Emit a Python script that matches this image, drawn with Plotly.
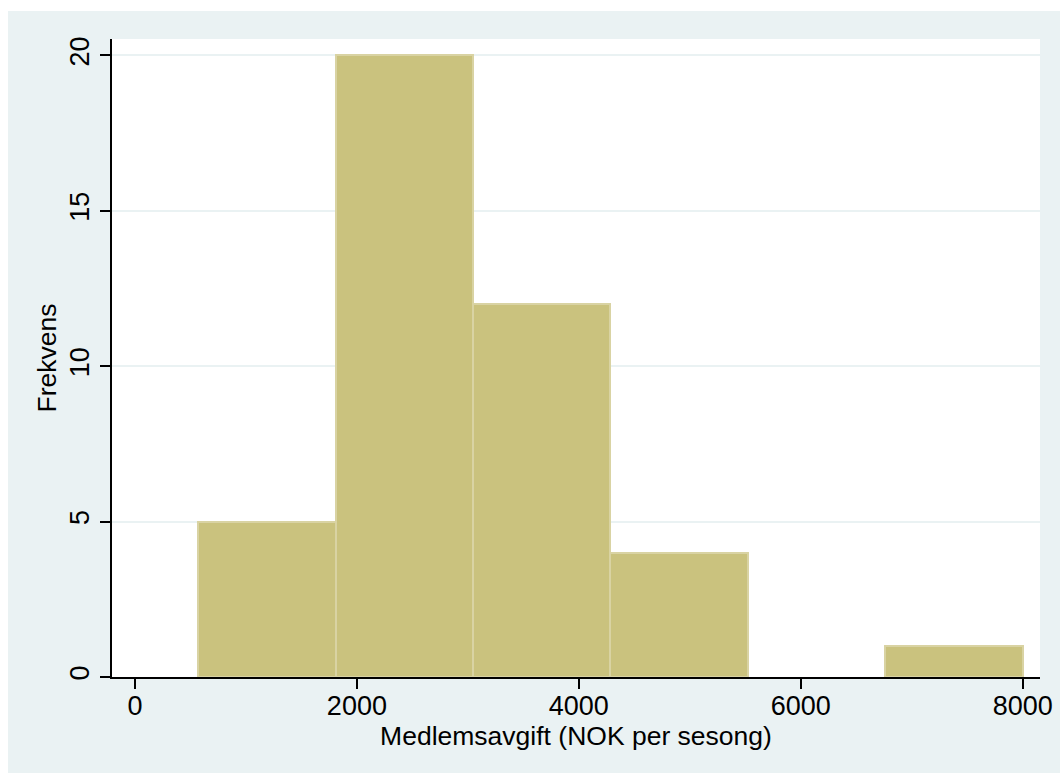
import plotly.graph_objects as go

# Data
bin_edges = [570, 1808, 3047, 4285, 5523, 6762, 8000]
counts = [5, 20, 12, 4, 0, 1]
x_ticks = [0, 2000, 4000, 6000, 8000]
y_ticks = [0, 5, 10, 15, 20]
x_title = "Medlemsavgift (NOK per sesong)"
y_title = "Frekvens"

centers = [(a + b) / 2 for a, b in zip(bin_edges[:-1], bin_edges[1:])]
widths = [b - a for a, b in zip(bin_edges[:-1], bin_edges[1:])]
edge_widths = [2 if c > 0 else 0 for c in counts]

BG = "#eaf2f3"
FONT = "Liberation Sans, Arial, sans-serif"
TICK_SIZE = 27
TITLE_SIZE = 26.5

fig = go.Figure(
    go.Bar(
        x=centers,
        y=counts,
        width=widths,
        marker=dict(color="#cac27e", line=dict(color="#d9d3a3", width=edge_widths)),
        hoverinfo="x+y",
    )
)

fig.update_layout(
    width=1052,
    height=762,
    margin=dict(l=104, r=20, t=28, b=96, autoexpand=False),
    paper_bgcolor=BG,
    plot_bgcolor="white",
    showlegend=False,
    bargap=0,
    font=dict(family=FONT, size=TICK_SIZE, color="black"),
)

fig.update_xaxes(
    range=[-207, 8156],
    tickvals=x_ticks,
    ticktext=[str(v) for v in x_ticks],
    ticks="outside",
    ticklen=10,
    tickwidth=1.5,
    tickcolor="black",
    ticklabelstandoff=-6,
    showline=True,
    linecolor="black",
    linewidth=1.5,
    showgrid=False,
    zeroline=False,
    tickfont=dict(size=TICK_SIZE, family=FONT, color="black"),
    title=dict(text=x_title, font=dict(size=TITLE_SIZE, family=FONT, color="black"), standoff=4),
    automargin=False,
)

fig.update_yaxes(
    range=[0, 20.53],
    tickvals=y_ticks,
    ticktext=[str(v) for v in y_ticks],
    tickangle=-90,
    ticks="outside",
    ticklen=10,
    tickwidth=1.5,
    tickcolor="black",
    showline=True,
    linecolor="black",
    linewidth=1.5,
    showgrid=True,
    gridcolor=BG,
    gridwidth=1.5,
    zeroline=False,
    tickfont=dict(size=TICK_SIZE, family=FONT, color="black"),
    title=dict(text=y_title, font=dict(size=TITLE_SIZE, family=FONT, color="black"), standoff=1),
    automargin=False,
)

post = (
    "document.body.style.margin='11px 0 0 8px';"
    "document.body.style.overflow='hidden';"
    "document.documentElement.style.overflow='hidden';"
)
fig.write_html("out.html", post_script=post)
